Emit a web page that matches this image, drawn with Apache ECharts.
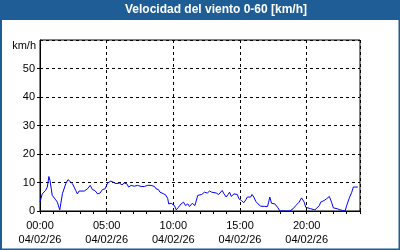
<!DOCTYPE html>
<html>
<head>
<meta charset="utf-8">
<script src="https://cdn.jsdelivr.net/npm/echarts@6/dist/echarts.min.js"></script>
<style>
html,body{margin:0;padding:0;background:#fff;}
#chart{width:400px;height:250px;}
</style>
</head>
<body>
<div id="chart"></div>
<script>
const chartTitle = 'Velocidad del viento 0-60 [km/h]';
const unitLabel = 'km/h';
const dateLabel = '04/02/26';
const yTicks = [0, 10, 20, 30, 40, 50, 60];
const xTickLabels = ['00:00', '05:00', '10:00', '15:00', '20:00'];
const times = ['00:00','00:10','00:25','00:33','00:40','00:45','00:55','01:11','01:18','01:23','01:29','01:41','01:56','02:06','02:15','02:26','02:33','02:41','02:48','02:56','03:04','03:19','03:34','03:46','03:56','04:07','04:19','04:30','04:41','04:53','05:04','05:12','05:19','05:26','05:42','05:57','06:09','06:19','06:30','06:39','06:50','07:04','07:19','07:35','07:50','08:04','08:12','08:20','08:27','08:35','08:42','08:53','09:00','09:09','09:17','09:27','09:35','09:39','09:50','09:57','10:05','10:13','10:23','10:35','10:46','10:55','11:05','11:13','11:25','11:31','11:37','11:50','11:58','12:08','12:20','12:33','12:43','12:53','13:02','13:13','13:24','13:33','13:40','13:48','13:58','14:06','14:13','14:21','14:33','14:40','14:48','14:55','15:06','15:17','15:26','15:33','15:41','15:48','15:54','16:02','16:11','16:21','16:33','16:51','17:04','17:09','17:14','17:22','17:29','17:37','17:44','17:51','17:59','18:44','18:59','19:11','19:17','19:26','19:37','19:42','19:49','19:56','20:02','20:18','20:27','20:37','20:45','20:57','21:03','21:12','21:19','21:30','21:42','21:52','22:00','22:07','22:18','22:30','22:42','22:53','23:00','23:12','23:23','23:30','23:38','23:50'];
const windSpeed = [3.1,6,7.2,8.4,12.1,10.7,5.5,3.9,3.1,3.7,0.4,6.1,9.6,11,10.7,9.6,9,7.2,6,7,6.3,7,7.8,9,7.5,7.2,6,6.3,7.5,7.8,9.8,10.4,10.5,10.1,9.6,9.8,9.2,9.8,9.6,8.4,9,8.7,9,8.6,8.6,9,9.6,9,8.4,8.6,7.8,7.5,6.6,7,6,5.5,4.3,2.5,2.7,3.1,1.9,0.4,1.3,2.5,3.1,1.9,2.5,1.6,2.7,3.1,1.9,5.5,6,5.8,6.6,6.3,7,6.6,6.3,6.3,5.8,6,7.2,6,4.9,5.8,6.6,5.1,6,5.5,5.8,4.3,3.7,2.9,3.9,4.9,4.3,4.9,5.8,4.9,3.4,2.5,1.7,1.6,1.6,3.1,4.9,2.7,2.2,2.5,1.9,1.1,0,0,0.8,1.9,1.6,3.1,4.6,5.1,3.1,1.3,0.8,0.8,0.2,0.4,0.8,1.9,3.1,2.7,3.7,4.3,5.1,3.1,1.1,0.4,0.8,0.4,0.2,0,1.9,4.6,6.6,8.4,8.6,8.4];

function toMin(t){const p=t.split(':');return (+p[0])*60+(+p[1]);}
const seriesData = times.map((t,i)=>[toMin(t), windSpeed[i]]);
const labelMap = {};
xTickLabels.forEach(l=>{labelMap[toMin(l)] = l;});

const FONT = 'Liberation Sans';
const BLUE = '#1f5d96';
const chart = echarts.init(document.getElementById('chart'), null, {renderer:'canvas'});
chart.setOption({
  animation:false,
  backgroundColor:'#ffffff',
  grid:{left:40, top:40, width:320, height:171, show:true, borderColor:'#000', borderWidth:1, backgroundColor:'transparent'},
  xAxis:[{
    type:'value', min:0, max:1440, interval:300,
    axisLine:{show:true, lineStyle:{color:'#000', width:1}},
    axisTick:{show:true, length:3, lineStyle:{color:'#000'}},
    axisLabel:{show:true, color:'#000', fontFamily:FONT, fontSize:11, lineHeight:14, margin:8, showMaxLabel:false,
      formatter:function(v){return labelMap[v]!==undefined ? labelMap[v]+'\n'+dateLabel : '';}},
    splitLine:{show:true, lineStyle:{color:'#000', type:[3,3], width:1}}
  },{
    type:'value', min:0, max:1440, interval:60, position:'bottom', gridIndex:0,
    axisLine:{show:false}, axisLabel:{show:false}, splitLine:{show:false},
    axisTick:{show:true, length:3, lineStyle:{color:'#000'}}
  }],
  yAxis:{
    type:'value', min:yTicks[0], max:yTicks[yTicks.length-1], interval:10,
    axisLine:{show:true, lineStyle:{color:'#000', width:1}},
    axisTick:{show:true, length:3, lineStyle:{color:'#000'}},
    axisLabel:{color:'#000', fontFamily:FONT, fontSize:11, margin:5, showMaxLabel:false},
    splitLine:{show:true, lineStyle:{color:'#000', type:[3,3], width:1}}
  },
  graphic:[
    {type:'rect', shape:{x:0,y:0,width:400,height:20}, style:{fill:BLUE}, silent:true, z:-1},
    {type:'rect', shape:{x:1,y:0.5,width:398.5,height:249}, style:{fill:null, stroke:BLUE, lineWidth:2}, silent:true, z:-1},
    {type:'text', x:216, y:10, style:{text:chartTitle, fill:'#fff', font:'bold 12px "Liberation Sans"', textAlign:'center', textVerticalAlign:'middle'}},
    {type:'text', x:36, y:46, style:{text:unitLabel, fill:'#000', font:'11px "Liberation Sans"', textAlign:'right', textVerticalAlign:'middle'}}
  ],
  series:[{
    type:'line', xAxisIndex:0, data:seriesData, showSymbol:false, symbol:'none',
    lineStyle:{color:'#0000ff', width:1}, smooth:false, clip:true
  }]
});
</script>
</body>
</html>
